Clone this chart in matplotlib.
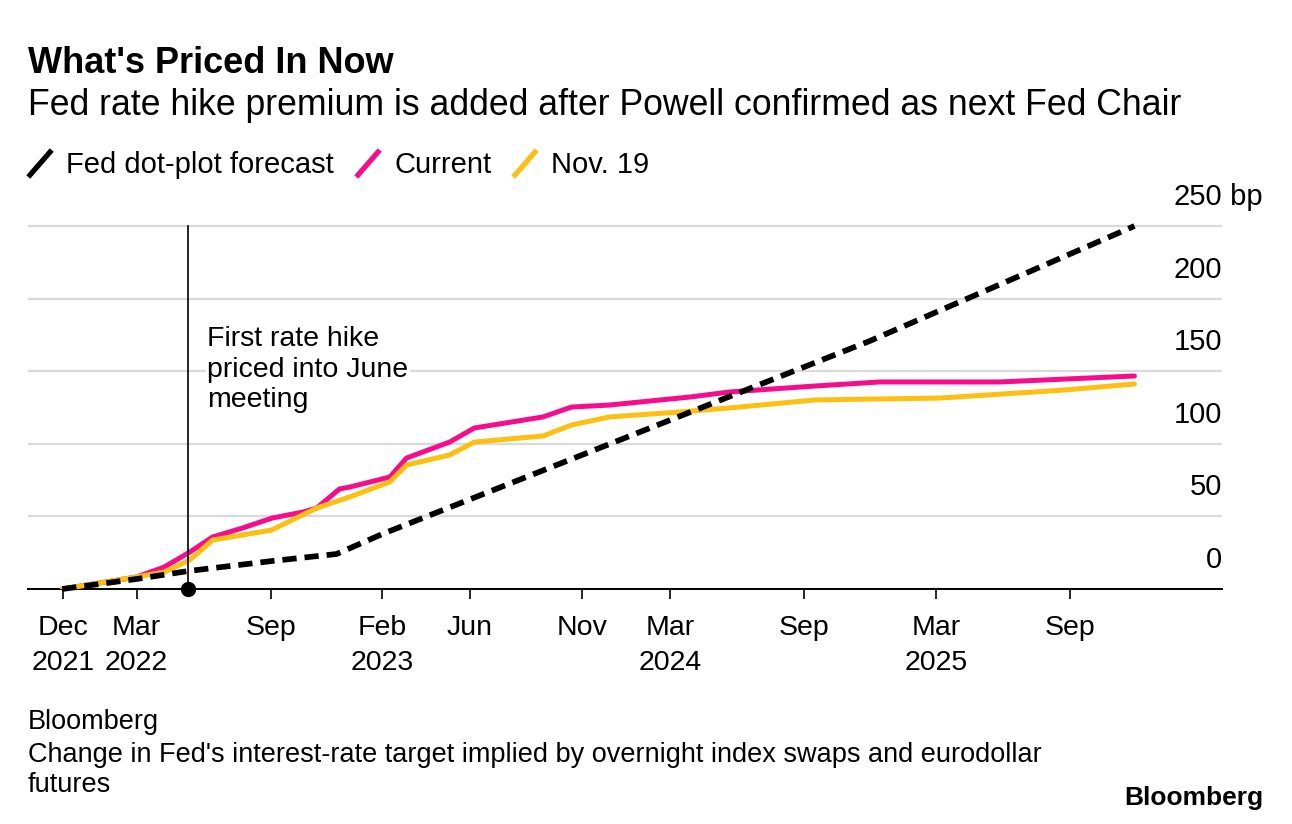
import matplotlib
matplotlib.use("Agg")
import matplotlib.pyplot as plt
from matplotlib.lines import Line2D
import pandas as pd

plt.rcParams['font.family'] = ['Liberation Sans', 'DejaVu Sans']

# values (bp change in fed target)
current_dates = ['2021-11-19', '2022-03-01', '2022-04-08', '2022-05-13', '2022-06-13',
                 '2022-07-24', '2022-09-03', '2022-10-15', '2022-11-03', '2022-12-04',
                 '2022-12-18', '2023-02-11', '2023-03-06', '2023-05-04', '2023-06-07',
                 '2023-09-09', '2023-10-18', '2023-12-09', '2024-03-28', '2024-05-22',
                 '2024-09-16', '2024-12-14', '2025-05-28', '2025-08-25', '2025-11-28']
current_bp = [0, 8.3, 15.2, 25.5, 35.8, 42.0, 48.9, 53.0, 55.8, 68.9,
              70.2, 77.1, 90.2, 101.2, 110.9, 118.5, 125.3, 126.7, 132.2, 135.7,
              139.8, 142.6, 142.6, 144.6, 146.7]

nov19_dates = ['2021-11-19', '2022-03-01', '2022-04-08', '2022-05-13', '2022-06-13',
               '2022-09-02', '2022-11-03', '2022-12-18', '2023-02-11', '2023-03-06',
               '2023-05-04', '2023-06-07', '2023-09-09', '2023-10-18', '2023-12-09',
               '2024-03-14', '2024-05-22', '2024-09-16', '2024-12-14', '2025-03-06',
               '2025-08-25', '2025-11-28']
nov19_bp = [0, 8.3, 11.7, 20.0, 33.7, 40.6, 55.8, 63.4, 73.7, 85.4,
            92.3, 101.2, 105.4, 112.9, 118.5, 121.9, 124.7, 130.2, 130.9, 131.5,
            137.1, 141.2]

dots_dates = ['2021-11-19', '2022-03-01', '2022-05-11', '2022-09-03', '2022-11-30',
              '2023-02-01', '2024-11-30', '2025-11-28']
dots_bp = [0, 6.9, 12.4, 19.3, 24.1, 37.9, 170.8, 250]

tick_dates = ['2021-11-20', '2022-03-01', '2022-09-01', '2023-02-01', '2023-06-01',
              '2023-11-01', '2024-03-01', '2024-09-01', '2025-03-01', '2025-09-01']
tick_labels = ['Dec\n2021', 'Mar\n2022', 'Sep', 'Feb\n2023', 'Jun',
               'Nov', 'Mar\n2024', 'Sep', 'Mar\n2025', 'Sep']
y_ticks = [0, 50, 100, 150, 200, 250]
first_hike = '2022-05-11'

PINK = '#f70d8b'
YELLOW = '#fcbf12'
GRID = '#dadada'

W, H = 1292, 824
fig = plt.figure(figsize=(W / 100, H / 100), dpi=100)
ax = fig.add_axes([28 / W, (H - 589) / H, (1222 - 28) / W, (589 - 211.5) / H])

ax.plot(pd.to_datetime(current_dates), current_bp, color=PINK, lw=3.6,
        solid_capstyle='round', solid_joinstyle='round', zorder=3)
ax.plot(pd.to_datetime(nov19_dates), nov19_bp, color=YELLOW, lw=3.6,
        solid_capstyle='round', solid_joinstyle='round', zorder=4)
ax.plot(pd.to_datetime(dots_dates), dots_bp, color='black', lw=4.1,
        dashes=(2.5, 1.4), dash_capstyle='butt', zorder=5, clip_on=False)

# first hike marker
hike = pd.to_datetime(first_hike)
ax.plot([hike, hike], [0, 250], color='black', lw=1.2, zorder=6)
ax.plot([hike], [0], 'o', ms=10, color='black', clip_on=False, zorder=7)
ax.text(hike + pd.Timedelta(days=26), 151, 'First rate hike\npriced into June\nmeeting',
        fontsize=20.5, ha='left', va='center', linespacing=1.22, zorder=2,
        bbox=dict(facecolor='white', edgecolor='none', pad=1))

ax.set_xlim(pd.Timestamp('2021-10-03'), pd.Timestamp('2026-03-28'))
ax.set_ylim(0, 260)

ax.set_yticks(y_ticks)
ax.tick_params(axis='y', length=0, labelleft=False)
ax.grid(axis='y', color=GRID, lw=1.6, zorder=1)
ax.set_axisbelow(True)
for v in y_ticks:
    ax.text(1.0, v + 20, str(v), transform=ax.get_yaxis_transform(),
            ha='right', va='center', fontsize=21)
ax.text(1.0, 270, ' bp', transform=ax.get_yaxis_transform(),
        ha='left', va='center', fontsize=21)

ax.set_xticks(pd.to_datetime(tick_dates))
ax.set_xticklabels(tick_labels, fontsize=20.5, linespacing=1.45)
ax.tick_params(axis='x', length=7, width=1.2, pad=12, color='black')

for s in ['top', 'left', 'right']:
    ax.spines[s].set_visible(False)
ax.spines['bottom'].set_linewidth(1.4)

# header
fig.text(28 / W, 1 - 73 / H, "What's Priced In Now", fontsize=26, fontweight='bold', va='baseline')
fig.text(28 / W, 1 - 115 / H, 'Fed rate hike premium is added after Powell confirmed as next Fed Chair',
         fontsize=25.7, va='baseline')

# legend
legend_items = [('Fed dot-plot forecast', 'black', 30, 66),
                ('Current', PINK, 358, 395),
                ('Nov. 19', YELLOW, 515, 551)]
for label, c, sx, tx in legend_items:
    fig.add_artist(Line2D([sx / W, (sx + 20) / W], [1 - 175 / H, 1 - 152 / H],
                          color=c, lw=3.8, transform=fig.transFigure))
    fig.text(tx / W, 1 - 173 / H, label, fontsize=21, va='baseline')

# footer
fig.text(28 / W, 1 - 722 / H, 'Bloomberg', fontsize=19.5, va='center')
fig.text(28 / W, 1 - 770 / H,
         "Change in Fed's interest-rate target implied by overnight index swaps and eurodollar\nfutures",
         fontsize=19.5, va='center', linespacing=1.25)
fig.text(1263 / W, 1 - 798 / H, 'Bloomberg', fontsize=19, fontweight='bold',
         ha='right', va='center')

fig.savefig('out.png', dpi=100, facecolor='white')
